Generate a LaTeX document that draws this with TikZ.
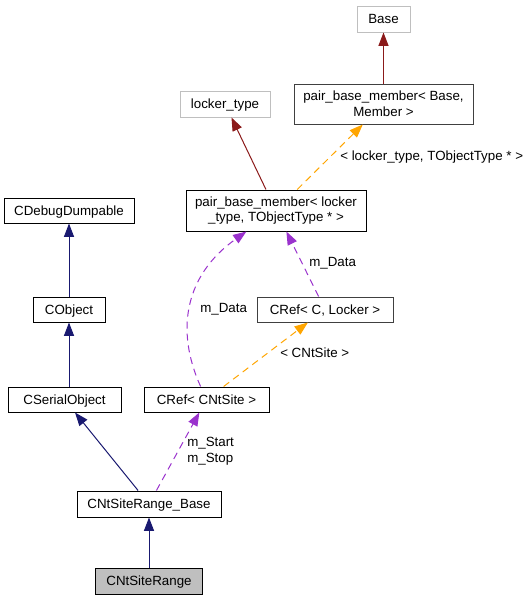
\documentclass[tikz,border=0pt]{standalone}
\usepackage{fontspec}
\setmainfont{Liberation Sans}
\usetikzlibrary{arrows.meta}

\definecolor{navyedge}{RGB}{25,25,112}
\definecolor{rededge}{RGB}{139,26,26}
\definecolor{orangeedge}{RGB}{255,165,0}
\definecolor{purpleedge}{RGB}{154,50,205}
\definecolor{lightborder}{RGB}{191,191,191}
\definecolor{darkborder}{RGB}{64,64,64}
\definecolor{curfill}{RGB}{191,191,191}

\tikzset{
  classbox/.style={draw=black, line width=0.75pt, inner sep=0pt, align=center,
    font=\fontsize{10}{11.75}\selectfont, minimum height=26*0.75pt},
  onerow/.style={text height=7.2pt, text depth=0pt},
  extbox/.style={classbox, onerow, draw=lightborder},
  tmplbox/.style={classbox, draw=darkborder},
  edgelabel/.style={inner sep=0pt, anchor=west, align=left,
    font=\fontsize{10}{11.75}\selectfont},
  inherit/.style={draw=navyedge, line width=0.75pt,
    -{Triangle[length=10pt,width=7.5pt]}},
  inheritext/.style={draw=rededge, line width=0.75pt,
    -{Triangle[length=10pt,width=7.5pt]}},
  usage/.style={draw=purpleedge, line width=0.75pt, dash pattern=on 5.25pt off 3.75pt,
    -{Triangle[length=10pt,width=7.5pt]}},
  instance/.style={draw=orangeedge, line width=0.75pt, dash pattern=on 5.25pt off 3.75pt,
    -{Triangle[length=10pt,width=7.5pt]}}
}

\begin{document}
\begin{tikzpicture}[x=0.75pt,y=0.75pt,yscale=-1,xscale=1]
        \useasboundingbox (0,0) rectangle (529,600);

        %Class boxes
        \node [extbox, minimum width=53*0.75pt] (base) at (383.5,19) {Base};
        \node [tmplbox, minimum width=179*0.75pt, minimum height=40*0.75pt] (pbmbase) at (383.5,104) {pair\_base\_member\textless{} Base,\\Member \textgreater};
        \node [extbox, minimum width=90*0.75pt] (lockertype) at (225,104) {locker\_type};
        \node [classbox, minimum width=180*0.75pt, minimum height=41*0.75pt] (pbmlocker) at (276,210.5) {pair\_base\_member\textless{} locker\\\_type, TObjectType * \textgreater};
        \node [classbox, onerow, minimum width=130*0.75pt, minimum height=25*0.75pt] (debugdump) at (69,210.5) {CDebugDumpable};
        \node [classbox, onerow, minimum width=72*0.75pt, minimum height=25*0.75pt] (cobject) at (69,309.5) {CObject};
        \node [tmplbox, onerow, minimum width=136*0.75pt, minimum height=25*0.75pt] (creflocker) at (325,309.5) {CRef\textless{} C, Locker \textgreater};
        \node [classbox, onerow, minimum width=113*0.75pt, minimum height=25*0.75pt] (serialobj) at (64.5,399.5) {CSerialObject};
        \node [classbox, onerow, minimum width=125*0.75pt, minimum height=25*0.75pt] (crefsite) at (206.5,399.5) {CRef\textless{} CNtSite \textgreater};
        \node [classbox, onerow, minimum width=144*0.75pt] (rangebase) at (149,504) {CNtSiteRange\_Base};
        \node [classbox, onerow, fill=curfill, minimum width=107*0.75pt] (range) at (149,581) {CNtSiteRange};

        %Inheritance
        \draw [inheritext] (pbmbase) -- (base);
        \draw [inheritext] (pbmlocker) -- (lockertype);
        \draw [inherit] (cobject) -- (debugdump);
        \draw [inherit] (serialobj.north -| cobject) -- (cobject);
        \draw [inherit] (rangebase) -- (serialobj);
        \draw [inherit] (range) -- (rangebase);

        %Template instances
        \draw [instance] (pbmlocker) -- (pbmbase);
        \draw [instance] (crefsite) -- (creflocker);

        %Members
        \draw [usage] (crefsite) .. controls (175,330) and (185,275) .. (pbmlocker);
        \draw [usage] (creflocker) -- (pbmlocker);
        \draw [usage] (rangebase) -- (crefsite);

        % Text Node
        \node [edgelabel] (lblpbm) at (340,157) {\textless{} locker\_type, TObjectType * \textgreater};
        \node [edgelabel] (lbldataa) at (200,309) {m\_Data};
        \node [edgelabel] (lbldatab) at (309,263) {m\_Data};
        \node [edgelabel] (lblsite) at (280,353) {\textless{} CNtSite \textgreater};
        \node [edgelabel] (lblrange) at (187,451) {m\_Start\\m\_Stop};
    \end{tikzpicture}
\end{document}
